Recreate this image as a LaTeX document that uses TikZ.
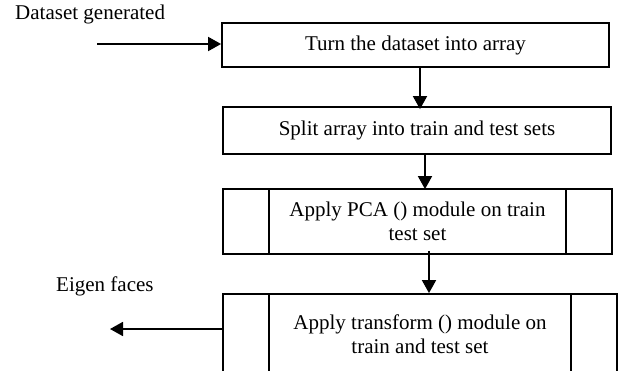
\documentclass[tikz,border=0pt]{standalone}
\usepackage{fontspec}
\setmainfont{Liberation Serif}
\usetikzlibrary{arrows.meta}
\begin{document}
\begin{tikzpicture}[x=1pt,y=-1pt,
  box/.style={draw,line width=1.8pt,rectangle,inner sep=0pt,align=center,font=\fontsize{21}{24}\selectfont},
  arr/.style={line width=1.8pt,-{Triangle[length=13pt,width=14pt]}},
  lbl/.style={inner sep=0pt,font=\fontsize{21}{24}\selectfont}]
\useasboundingbox (0,0) rectangle (618,370);
\node[box,minimum width=387pt,minimum height=44pt] (b1) at (415.5,45) {Turn the dataset into array};
\node[box,minimum width=388pt,minimum height=47pt] (b2) at (417,130.5) {Split array into train and test sets};
\node[box,minimum width=389pt,minimum height=65pt] (b3) at (417.5,221.5) {Apply PCA () module on train\\test set};
\node[box,minimum width=394pt,minimum height=80pt] (b4) at (420,334) {Apply transform () module on\\train and test set};
\draw[line width=1.8pt] ([xshift=47pt]b3.north west) -- ([xshift=47pt]b3.south west);
\draw[line width=1.8pt] ([xshift=-47pt]b3.north east) -- ([xshift=-47pt]b3.south east);
\draw[line width=1.8pt] ([xshift=47pt]b4.north west) -- ([xshift=47pt]b4.south west);
\draw[line width=1.8pt] ([xshift=-47pt]b4.north east) -- ([xshift=-47pt]b4.south east);
\node[lbl,anchor=west] (dg) at (15,14) {Dataset generated};
\node[lbl,anchor=west] (ef) at (56,286) {Eigen faces};
\coordinate (din) at (97,44);
\coordinate (eout) at (110,329);
\coordinate (a1) at (420,0);
\coordinate (a2) at (425,0);
\coordinate (a3) at (429,0);
\draw[arr] (din) -- (din -| b1.west);
\draw[arr] (a1 |- b1.south) -- ([yshift=-3pt]a1 |- b2.north);
\draw[arr] (a2 |- b2.south) -- ([yshift=-1pt]a2 |- b3.north);
\draw[arr] ([yshift=4pt]a3 |- b3.south) -- (a3 |- b4.north);
\draw[arr] (eout -| b4.west) -- (eout);
\end{tikzpicture}
\end{document}
